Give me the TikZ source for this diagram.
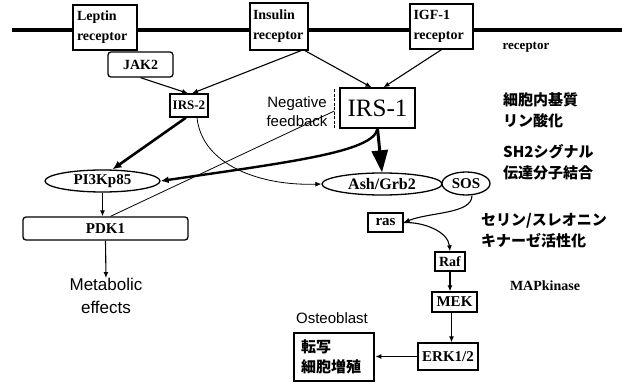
\documentclass[tikz,border=0pt]{standalone}
\usepackage{fontspec}
\setmainfont{Liberation Serif}
\newfontfamily\sansf{Liberation Sans}
\newfontfamily\jpf{Noto Sans CJK JP}
\usetikzlibrary{arrows.meta,shapes.geometric}
\tikzset{
  lab/.style={font=\fontsize{14}{20}\selectfont\bfseries, inner sep=1pt},
  sqbox/.style={draw, line width=1.3pt, fill=white, lab},
  rrbox/.style={draw, line width=1.3pt, fill=white, rounded corners=3pt, lab},
  oval/.style={draw, ellipse, line width=1.3pt, fill=white, lab, inner sep=0pt},
  arr/.style={-{Latex[length=6pt,width=5pt]}, line width=1.1pt},
  thinarr/.style={-{Latex[length=6pt,width=5pt]}, line width=0.8pt},
  jp/.style={font=\jpf\bfseries\fontsize{15}{21}\selectfont, align=left, anchor=west, inner sep=0pt},
  sanslab/.style={font=\sansf\fontsize{15}{19}\selectfont, align=center, inner sep=0pt},
}
\begin{document}
\begin{tikzpicture}[x=1pt,y=-1pt]
\useasboundingbox (0,0) rectangle (622,383);
% membrane
\draw[line width=4.8pt] (12,30) -- (622,30);
% receptors
\node[sqbox, minimum width=64, minimum height=45, align=left, text width=56] (lep) at (105,27.5) {Leptin\\receptor};
\node[sqbox, minimum width=58, minimum height=47, align=left, text width=52] (ins) at (279,26.5) {Insulin\\receptor};
\node[sqbox, minimum width=63, minimum height=45, align=left, text width=56] (igf) at (441.5,26.5) {IGF-1\\receptor};
\node[rrbox, minimum width=65, minimum height=25] (jak) at (140.5,64.5) {JAK2};
\node[lab, font=\fontsize{13}{15}\selectfont\bfseries] (rec) at (526,47) {receptor};
% IRS
\node[sqbox, minimum width=38, minimum height=23, font=\fontsize{13}{15}\selectfont\bfseries] (irs2) at (189,105.5) {IRS-2};
\node[sqbox, minimum width=75, minimum height=40, font=\fontsize{25}{28}\selectfont] (irs1) at (377.5,108) {IRS-1};
\node[sanslab] (neg) at (297,112) {Negative\\feedback};
% middle
\node[oval, minimum width=115, minimum height=22, font=\fontsize{15}{17}\selectfont\bfseries] (pi3k) at (102.5,181) {PI3Kp85};
\node[rrbox, minimum width=165, minimum height=23, font=\fontsize{15}{17}\selectfont\bfseries] (pdk) at (105.5,228.5) {PDK1};
\node[sanslab, font=\sansf\fontsize{17}{23}\selectfont] (met) at (106,296) {Metabolic\\effects};
\node[oval, minimum width=120, minimum height=22, font=\fontsize{16}{18}\selectfont\bfseries] (ash) at (382,184) {Ash/Grb2};
\node[oval, minimum width=48, minimum height=23, font=\fontsize{15}{17}\selectfont\bfseries] (sos) at (466,183.5) {SOS};
\node[sqbox, minimum width=35, minimum height=19, font=\fontsize{15}{17}\selectfont\bfseries] (ras) at (385.5,222.5) {ras};
\node[sqbox, minimum width=30, minimum height=19, font=\fontsize{14}{16}\selectfont\bfseries] (raf) at (450,261.5) {Raf};
\node[sqbox, minimum width=45, minimum height=20, font=\fontsize{15}{17}\selectfont\bfseries] (mek) at (454.5,302) {MEK};
\node[sqbox, minimum width=60, minimum height=27, font=\fontsize{15}{17}\selectfont\bfseries] (erk) at (448,356.5) {ERK1/2};
\node[draw, line width=2.8pt, minimum width=80, minimum height=48, align=left, text width=66, font=\jpf\bfseries\fontsize{15}{20}\selectfont, inner sep=2pt] (ost) at (334,357) {転写\\細胞増殖};
\node[sanslab] (ostl) at (332,318) {Osteoblast};
% right labels
\node[jp] (j1) at (503,110) {細胞内基質\\リン酸化};
\node[jp] (j2) at (503,162) {SH2シグナル\\伝達分子結合};
\node[jp] (j3) at (481,231) {セリン/スレオニン\\キナーゼ活性化};
\node[lab, font=\fontsize{14}{16}\selectfont\bfseries] (mapk) at (545,286) {MAPkinase};
% receptor to IRS
\draw[arr] (jak.south) -- ([xshift=-1]irs2.north);
\draw[arr] ([xshift=22]ins.south) -- ([xshift=3]irs2.north);
\draw[arr] ([xshift=26]ins.south) -- ([xshift=-6]irs1.north);
\draw[arr] ([xshift=0]igf.south) -- ([xshift=6]irs1.north);
% IRS-2 outputs
\draw[-{Latex[length=9pt,width=8pt]}, line width=2.6pt] ([xshift=-3]irs2.south) -- ([xshift=10]pi3k.north);
\draw[thinarr] ([xshift=8]irs2.south) .. controls (202,165) and (260,186) .. (ash.west);
% IRS-1 outputs
\draw[-{Latex[length=8pt,width=7pt]}, line width=2.4pt] (irs1.south) .. controls (374,152) and (290,162) .. (pi3k.east);
\draw[-{Triangle[length=22pt,width=16pt]}, line width=3pt] (irs1.south) -- (ash.north);
% negative feedback
\coordinate (fb) at ([xshift=-5,yshift=-3]irs1.west);
\draw[line width=0.8pt] ([xshift=5]pdk.north) -- (fb);
\draw[line width=1.2pt, dashed, dash pattern=on 3pt off 1.5pt] ([xshift=-5,yshift=-2]irs1.north west) -- ([xshift=-5,yshift=-1]irs1.south west);
% PI3K chain
\draw[arr] (pi3k.south) -- (pi3k.south |- pdk.north);
\draw[arr] (pdk.south) -- (met.north);
% MAPK chain
\draw[arr] ([xshift=6]sos.south) .. controls (472,214) and (430,212) .. (ras.east);
\draw[arr] (ras.east) .. controls (425,222) and (448,232) .. (raf.north);
\draw[arr] (raf.south) -- (raf.south |- mek.north);
\draw[arr] ([xshift=-3]mek.south) -- ([xshift=-3]mek.south |- erk.north);
\draw[arr] (erk.west) -- (ost.east |- erk.west);
\end{tikzpicture}
\end{document}
